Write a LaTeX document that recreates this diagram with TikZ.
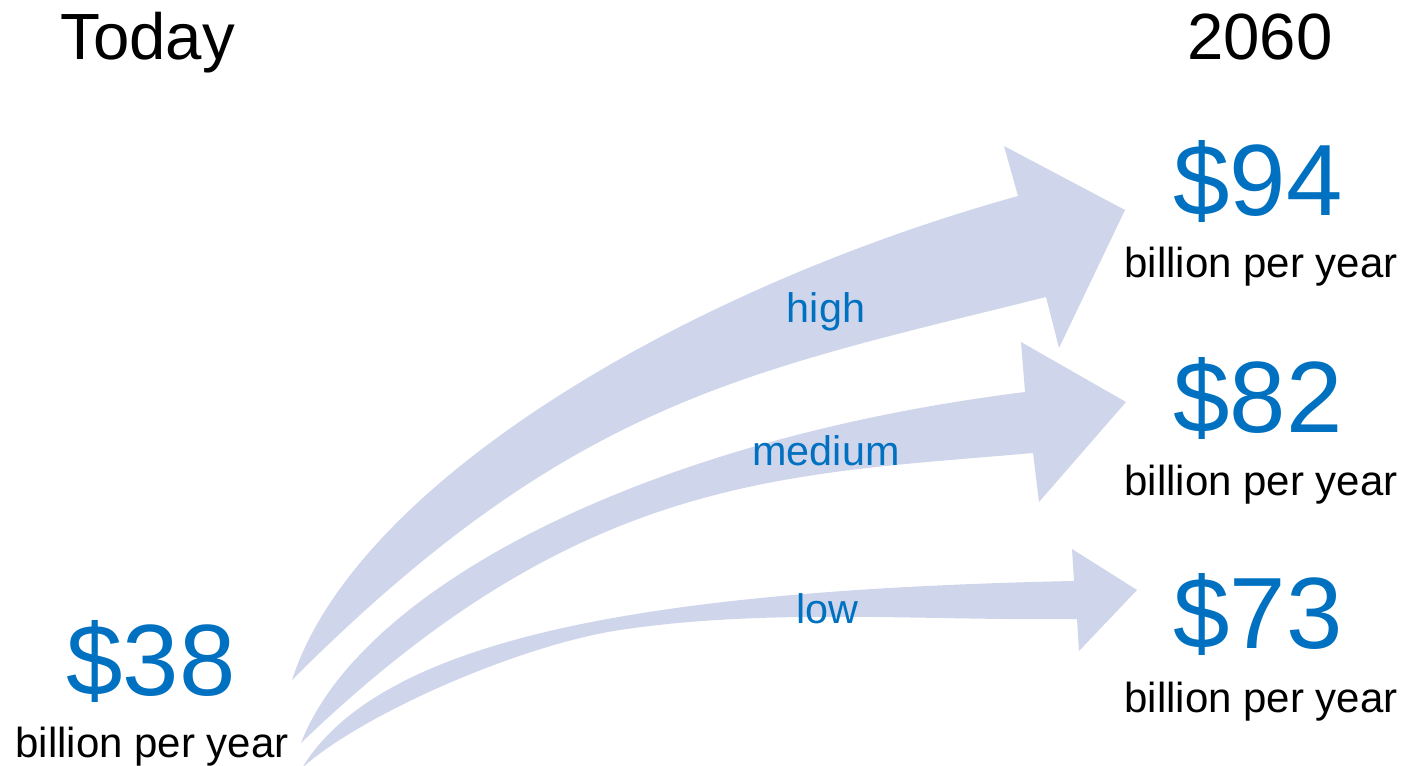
\documentclass[tikz,border=0pt]{standalone}
\usepackage{fontspec}
\setmainfont{Liberation Sans}
\definecolor{numblue}{HTML}{0070C0}
\definecolor{arrowfill}{HTML}{CFD5EA}
\begin{document}
\begin{tikzpicture}[x=0.75pt,y=-0.75pt,
  bigtxt/.style={anchor=base,inner sep=0pt,text=black,font=\fontsize{49}{54}\selectfont},
  numtxt/.style={anchor=base,inner sep=0pt,text=numblue,font=\fontsize{76}{80}\selectfont},
  unittxt/.style={anchor=base,inner sep=0pt,text=black,font=\fontsize{31.5}{36}\selectfont},
  lbltxt/.style={anchor=base,inner sep=0pt,text=numblue,font=\fontsize{31}{36}\selectfont},
  flowarrow/.style={fill=arrowfill,draw=none}]
\useasboundingbox (0,0) rectangle (1402,766);

% arrows
\fill[flowarrow] (292,680) .. controls (355,485) and (680,290) .. (1018,196)
  -- (1004,146) -- (1125,210) -- (1059,348) -- (1046,297)
  .. controls (746,372) and (572,400) .. (292,680) -- cycle;
\fill[flowarrow] (301,743) .. controls (360,590) and (640,440) .. (1025,392)
  -- (1021,342) -- (1126,402) -- (1039,502) -- (1033,453)
  .. controls (783,475) and (581,474) .. (301,743) -- cycle;
\fill[flowarrow] (302,768) .. controls (380,640) and (640,590) .. (1074,581)
  -- (1072,549) -- (1137,590) -- (1079,651) -- (1077,619)
  .. controls (927,621) and (770,607.5) .. (620,630)
  .. controls (520,645) and (362,714) .. (302,768) -- cycle;

% headings
\node[bigtxt] (today) at (147.5,60) {Today};
\node[bigtxt] (year) at (1260,60) {2060};

% left value
\node[numtxt] (v38) at (151,695) {\$38};
\node[unittxt] (u38) at (152,757) {billion per year};

% right values
\node[numtxt] (v94) at (1258,216) {\$94};
\node[unittxt] (u94) at (1261,278) {billion per year};
\node[numtxt] (v82) at (1258,432) {\$82};
\node[unittxt] (u82) at (1261,495) {billion per year};
\node[numtxt] (v73) at (1258,648) {\$73};
\node[unittxt] (u73) at (1261,712) {billion per year};

% scenario labels
\node[lbltxt] (high) at (826,323) {high};
\node[lbltxt] (medium) at (826,465) {medium};
\node[lbltxt] (low) at (827,623) {low};
\end{tikzpicture}
\end{document}
